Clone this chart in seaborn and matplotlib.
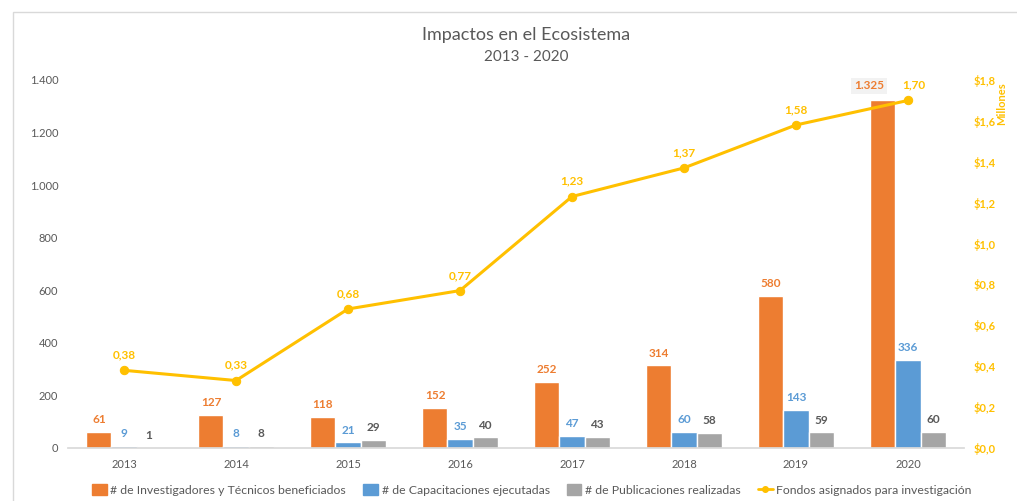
import numpy as np
import pandas as pd
import matplotlib.pyplot as plt
import seaborn as sns
from matplotlib.patches import Rectangle
from matplotlib.lines import Line2D
from matplotlib.ticker import FuncFormatter

# --- datos ---
anios = ['2013', '2014', '2015', '2016', '2017', '2018', '2019', '2020']
investigadores = [61, 127, 118, 152, 252, 314, 580, 1325]
capacitaciones = [9, 8, 21, 35, 47, 60, 143, 336]
publicaciones = [1, 8, 29, 40, 43, 58, 59, 60]
fondos = [0.38, 0.33, 0.68, 0.77, 1.23, 1.37, 1.58, 1.70]

series = ['# de Investigadores y Técnicos beneficiados',
          '# de Capacitaciones ejecutadas',
          '# de Publicaciones realizadas']
nombre_linea = 'Fondos asignados para investigación'

naranja = '#ED7D31'
azul = '#5B9BD5'
gris = '#A5A5A5'
amarillo = '#FFC000'
texto = '#595959'

df = pd.DataFrame({
    'anio': anios * 3,
    'valor': investigadores + capacitaciones + publicaciones,
    'serie': [series[0]] * 8 + [series[1]] * 8 + [series[2]] * 8,
})

sns.set_theme(style='white')
plt.rcParams['font.family'] = ['Lato', 'DejaVu Sans']

fig = plt.figure(figsize=(10.17, 5.01), dpi=100)
ax = fig.add_axes([68 / 1017, 1 - 448 / 501, (964 - 68) / 1017, (448 - 80) / 501])

sns.barplot(data=df, x='anio', y='valor', hue='serie', palette=[naranja, azul, gris],
            width=0.67, ax=ax, legend=False, saturation=1)
ax.set_ylim(0, 1400)
ax.set_xlim(-0.5, 7.5)
ax.set_xlabel('')
ax.set_ylabel('')
ax.yaxis.set_major_formatter(FuncFormatter(lambda v, p: f'{int(v):,}'.replace(',', '.')))
ax.tick_params(axis='both', length=0, labelsize=8, labelcolor=texto)
ax.tick_params(axis='y', pad=7)
ax.tick_params(axis='x', pad=8)
for s in ['left', 'right', 'top']:
    ax.spines[s].set_visible(False)
ax.spines['bottom'].set_color('#D9D9D9')

# etiquetas de datos de las barras
colores_etq = [naranja, azul, '#595959']
for i, cont in enumerate(ax.containers):
    etqs = [f'{int(v):,}'.replace(',', '.') for v in cont.datavalues]
    ax.bar_label(cont, labels=etqs, padding=5, fontsize=8.5, fontweight='bold', color=colores_etq[i])
# desplazar la etiqueta 1.325 a la izquierda como en el original
for t in ax.texts:
    if t.get_text() == '1.325':
        t.xyann = (-10, 6)
        t.set_bbox(dict(facecolor='#F2F2F2', edgecolor='none', pad=2))

# eje secundario: fondos
ax2 = ax.twinx()
sns.lineplot(x=np.arange(len(anios)), y=fondos, ax=ax2, color=amarillo, linewidth=2.2,
             marker='o', markersize=6, markeredgecolor=amarillo)
ax2.set_ylim(0, 1.8)
ax2.set_yticks(np.arange(0, 1.81, 0.2))
ax2.yaxis.set_major_formatter(FuncFormatter(lambda v, p: f'${v:.1f}'.replace('.', ',')))
ax2.tick_params(axis='y', length=0, labelsize=8, labelcolor=amarillo, pad=7)
for lbl in ax2.get_yticklabels():
    lbl.set_fontweight('bold')
for s in ax2.spines.values():
    s.set_visible(False)
for i, v in enumerate(fondos):
    dx = 4 if i == len(fondos) - 1 else 0
    ax2.annotate(f'{v:.2f}'.replace('.', ','), (i, v), textcoords='offset points',
                 xytext=(dx, 7), ha='center', va='bottom', fontsize=8.5,
                 fontweight='bold', color=amarillo)

fig.text(1002 / 1017, 1 - 82 / 501, 'Millones', rotation=90, ha='center', va='top',
         fontsize=8, fontweight='bold', color=amarillo)

# títulos
fig.text(0.517, 1 - 35 / 501, 'Impactos en el Ecosistema', ha='center', va='center',
         fontsize=13, color=texto)
fig.text(0.517, 1 - 57 / 501, '2013 - 2020', ha='center', va='center',
         fontsize=11, color=texto)

# marco del área del gráfico
fig.patches.append(Rectangle((13 / 1017, -0.1), 1.1, 1.1 - 12 / 501, transform=fig.transFigure,
                             fill=False, edgecolor='#D9D9D9', linewidth=1))

# leyenda
manejadores = [Rectangle((0, 0), 1, 1, color=c) for c in [naranja, azul, gris]]
manejadores.append(Line2D([0], [0], color=amarillo, lw=2, marker='o', markersize=4))
fig.legend(manejadores, series + [nombre_linea], loc='center', ncol=4,
           bbox_to_anchor=(0.523, 1 - 490 / 501), frameon=False, fontsize=8.8,
           labelcolor=texto, handlelength=1.2, handletextpad=0.3, columnspacing=1.4,
           handleheight=0.9)

fig.savefig('out.png', dpi=100)
